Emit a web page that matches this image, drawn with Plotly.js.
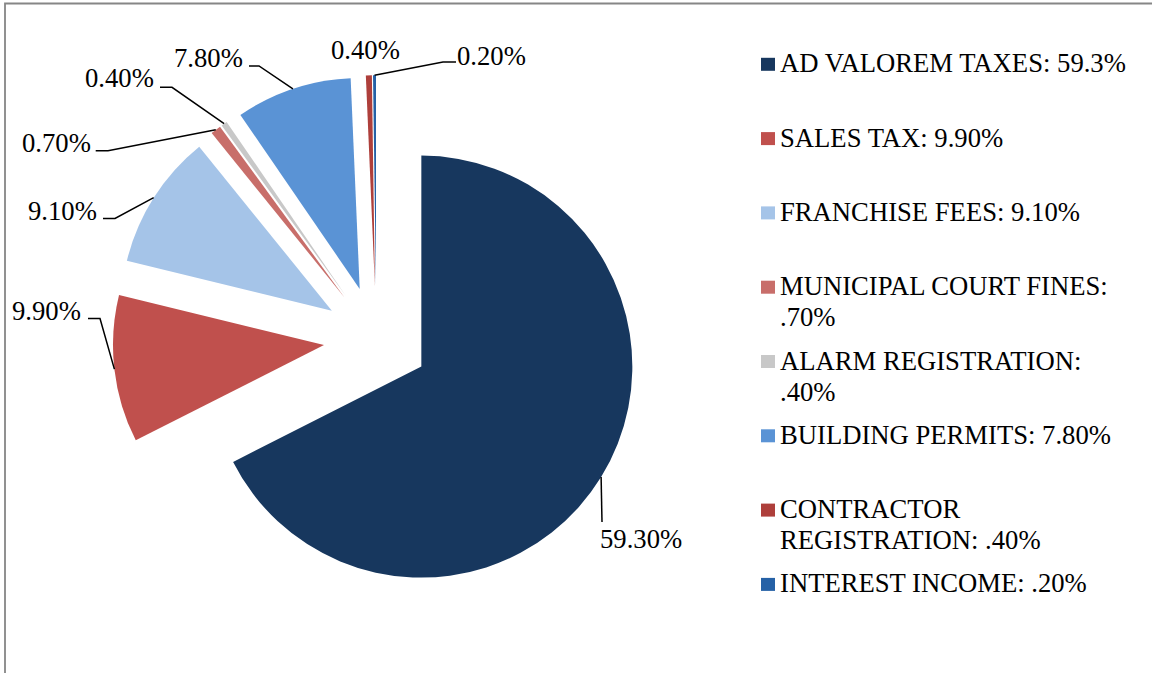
<!DOCTYPE html>
<html><head><meta charset="utf-8">
<script src="https://cdn.plot.ly/plotly-3.0.1.min.js"></script>
<style>html,body{margin:0;padding:0;background:#fff}#chart{width:1152px;height:673px}</style>
</head><body><div id="chart"></div>
<script>
// ---- data ----
const categories = ["AD VALOREM TAXES","SALES TAX","FRANCHISE FEES","MUNICIPAL COURT FINES","ALARM REGISTRATION","BUILDING PERMITS","CONTRACTOR REGISTRATION","INTEREST INCOME"];
const values = [59.3, 9.9, 9.1, 0.7, 0.4, 7.8, 0.4, 0.2];
const dataLabels = ["59.30%","9.90%","9.10%","0.70%","0.40%","7.80%","0.40%","0.20%"];
const legendLabels = ["AD VALOREM TAXES: 59.3%","SALES TAX: 9.90%","FRANCHISE FEES: 9.10%","MUNICIPAL COURT FINES:<br>.70%","ALARM REGISTRATION:<br>.40%","BUILDING PERMITS: 7.80%","CONTRACTOR<br>REGISTRATION: .40%","INTEREST INCOME: .20%"];
const colors = ["#17375E","#C0504D","#A5C4E8","#C86E6A","#C8C8C8","#5A93D5","#AE3F3B","#2561A6"];

// ---- layout / positions (pixels) ----
const W = 1152, H = 673;
const FONT = "Liberation Serif";
const FS = 26.67;
const pie = {cx: 376.4, cy: 339, r: 211, pull: 0.25};
// data label placement: text left edge, text center y, leader path points (from text side toward slice)
const labelPos = [
  {x: 601, y: 538.5, pts: [[602, 522]]},
  {x: 12.7, y: 310.5, pts: [[88, 318.5], [100, 318.5]]},
  {x: 29, y: 211, pts: [[103, 218.5], [115, 218.5]]},
  {x: 22.7, y: 143.3, pts: [[95.7, 150.7], [108, 150.7]]},
  {x: 86, y: 77.5, pts: [[160, 87.3], [172, 87.3]]},
  {x: 175, y: 57.5, pts: [[249, 66], [259, 66]]},
  {x: 331.7, y: 50.5, pts: null},
  {x: 458, y: 55.5, pts: [[456, 62], [443, 62]]}
];
const legendPos = {markX: 761, markW: 14, markH: 13, textX: 781, y0: 63.3, step: 74.3, lineGap: 31};

const px = x => x / W;
const py = y => 1 - y / H;

const half = pie.r * (1 + pie.pull);
const trace = {
  type: 'pie',
  labels: categories,
  values: values,
  sort: false,
  direction: 'clockwise',
  rotation: 0,
  pull: values.map(() => pie.pull),
  marker: {colors: colors, line: {width: 0}},
  textinfo: 'none',
  hoverinfo: 'label+percent',
  showlegend: false,
  domain: {x: [px(pie.cx - half), px(pie.cx + half)], y: [py(pie.cy + half), py(pie.cy - half)]}
};

const annotations = [];
const shapes = [];

// border frame
shapes.push({type: 'rect', xref: 'paper', yref: 'paper', x0: px(5), x1: 1.05, y0: py(3.5), y1: -0.05,
  line: {color: '#868686', width: 1.8}, fillcolor: 'rgba(0,0,0,0)'});

// data labels + leader lines
const total = values.reduce((a, b) => a + b, 0);
let cum = 0;
values.forEach((v, i) => {
  const mid = (cum + v / 2) / total;
  cum += v;
  const th = 2 * Math.PI * mid;
  const R = pie.r * (1 + pie.pull);
  const ax = pie.cx + R * Math.sin(th), ay = pie.cy - R * Math.cos(th);
  const lp = labelPos[i];
  annotations.push({xref: 'paper', yref: 'paper', x: px(lp.x - 3), y: py(lp.y), xanchor: 'left', yanchor: 'middle',
    text: dataLabels[i], showarrow: false, font: {family: FONT, size: FS, color: '#000'}});
  if (lp.pts) {
    const pts = lp.pts.concat([[ax, ay]]);
    const path = pts.map((p, k) => (k ? 'L' : 'M') + px(p[0]) + ',' + py(p[1])).join(' ');
    shapes.push({type: 'path', xref: 'paper', yref: 'paper', path: path, line: {color: '#000', width: 1.5}});
  }
});

// legend
legendLabels.forEach((lab, i) => {
  const yc = legendPos.y0 + i * legendPos.step;
  shapes.push({type: 'rect', xref: 'paper', yref: 'paper',
    x0: px(legendPos.markX), x1: px(legendPos.markX + legendPos.markW),
    y0: py(yc + 1 - legendPos.markH / 2), y1: py(yc + 1 + legendPos.markH / 2),
    line: {width: 0}, fillcolor: colors[i]});
  lab.split('<br>').forEach((line, k) => {
    annotations.push({xref: 'paper', yref: 'paper', x: px(legendPos.textX - 3), y: py(yc + k * legendPos.lineGap),
      xanchor: 'left', yanchor: 'middle', text: line, showarrow: false,
      font: {family: FONT, size: FS, color: '#000'}});
  });
});

const layout = {
  width: W, height: H,
  margin: {l: 0, r: 0, t: 0, b: 0},
  paper_bgcolor: '#fff', plot_bgcolor: '#fff',
  showlegend: false,
  font: {family: FONT, size: FS, color: '#000'},
  annotations: annotations,
  shapes: shapes
};

Plotly.newPlot('chart', [trace], layout, {displayModeBar: false, staticPlot: true});
</script>
</body></html>
